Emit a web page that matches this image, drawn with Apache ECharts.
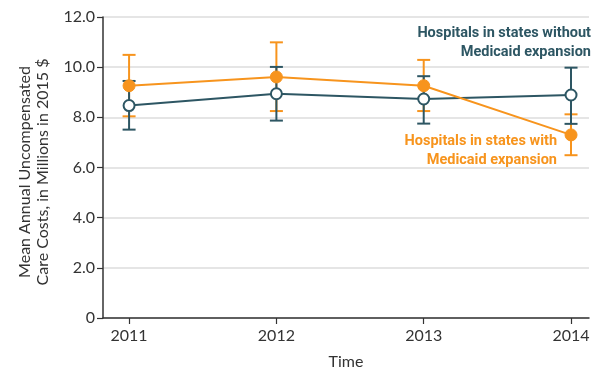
<!DOCTYPE html>
<html>
<head>
<meta charset="utf-8">
<script src="https://cdn.jsdelivr.net/npm/echarts@6/dist/echarts.min.js"></script>
<style>
  html, body { margin: 0; padding: 0; background: #fff; }
  #chart { width: 598px; height: 368px; }
</style>
</head>
<body>
<div id="chart"></div>
<script>
// Years on the horizontal axis
const years = [2011, 2012, 2013, 2014];

// Hospitals in states with Medicaid expansion (mean and 95% CI, $ millions)
const expansionMean = [9.26, 9.61, 9.26, 7.30];
const expansionLow  = [8.04, 8.25, 8.25, 6.49];
const expansionHigh = [10.49, 10.99, 10.29, 8.12];

// Hospitals in states without Medicaid expansion
const nonExpansionMean = [8.47, 8.94, 8.73, 8.89];
const nonExpansionLow  = [7.51, 7.87, 7.75, 7.74];
const nonExpansionHigh = [9.45, 10.01, 9.64, 9.98];

const ORANGE = '#f7941d';
const TEAL = '#2d5663';
const AXIS_FONT = 'Lato, "Open Sans", sans-serif';
const NOTE_FONT = '"Liberation Sans Narrow", "Roboto", sans-serif';

function pairs(xs, ys) { return xs.map((x, i) => [x, ys[i]]); }
function ranges(xs, lo, hi) { return xs.map((x, i) => [x, lo[i], hi[i]]); }

// Vertical whisker with horizontal caps
function errorBar(color) {
  return function (params, api) {
    const x = api.value(0);
    const top = api.coord([x, api.value(2)]);
    const bot = api.coord([x, api.value(1)]);
    const half = 6.5;
    const style = { stroke: color, lineWidth: 2, fill: null };
    return {
      type: 'group',
      children: [
        { type: 'line', shape: { x1: top[0], y1: top[1], x2: bot[0], y2: bot[1] }, style },
        { type: 'line', shape: { x1: top[0] - half, y1: top[1], x2: top[0] + half, y2: top[1] }, style },
        { type: 'line', shape: { x1: bot[0] - half, y1: bot[1], x2: bot[0] + half, y2: bot[1] }, style }
      ]
    };
  };
}

const chart = echarts.init(document.getElementById('chart'), null, { renderer: 'canvas' });

chart.setOption({
  animation: false,
  backgroundColor: '#fff',
  grid: { left: 103, right: 9, top: 17, bottom: 50, containLabel: false, outerBoundsMode: 'none' },
  xAxis: {
    type: 'value',
    min: 2010.823,
    max: 2014.122,
    splitLine: { show: false },
    axisLine: { show: true, lineStyle: { color: '#333', width: 1.5 } },
    axisTick: { show: true, customValues: years, length: 6, lineStyle: { color: '#333', width: 1.2 } },
    axisLabel: {
      customValues: years,
      formatter: v => String(v),
      color: '#333', fontFamily: AXIS_FONT, fontSize: 16, margin: 10
    },
    name: 'Time',
    nameLocation: 'middle',
    nameGap: 36,
    nameTextStyle: { color: '#333', fontFamily: AXIS_FONT, fontSize: 16 }
  },
  yAxis: {
    type: 'value',
    min: 0,
    max: 12,
    interval: 2,
    axisLine: { show: true, lineStyle: { color: '#333', width: 1.5 } },
    axisTick: { show: true, length: 6, lineStyle: { color: '#333', width: 1.2 } },
    axisLabel: {
      formatter: v => (v === 0 ? '0' : v.toFixed(1)),
      color: '#333', fontFamily: AXIS_FONT, fontSize: 16, margin: 8
    },
    splitLine: { show: true, lineStyle: { color: '#dcdcdc', width: 1.5 } }
  },
  graphic: [
    {
      type: 'text', x: 34, y: 172, rotation: Math.PI / 2,
      style: {
        text: 'Mean Annual Uncompensated\nCare Costs, in Millions in 2015 $',
        align: 'center', verticalAlign: 'middle',
        fill: '#333', font: '16px ' + AXIS_FONT, lineHeight: 18
      }
    },
    {
      type: 'text', x: 591, y: 42.5,
      style: {
        text: 'Hospitals in states without\nMedicaid expansion',
        align: 'right', verticalAlign: 'middle',
        fill: TEAL, font: 'bold 14.5px ' + NOTE_FONT, lineHeight: 19
      }
    },
    {
      type: 'text', x: 557, y: 150.5,
      style: {
        text: 'Hospitals in states with\nMedicaid expansion',
        align: 'right', verticalAlign: 'middle',
        fill: ORANGE, font: 'bold 14.5px ' + NOTE_FONT, lineHeight: 19
      }
    }
  ],
  series: [
    {
      type: 'custom', name: 'expansion CI',
      renderItem: errorBar(ORANGE),
      data: ranges(years, expansionLow, expansionHigh),
      encode: { x: 0, y: [1, 2] }, z: 2
    },
    {
      type: 'custom', name: 'non-expansion CI',
      renderItem: errorBar(TEAL),
      data: ranges(years, nonExpansionLow, nonExpansionHigh),
      encode: { x: 0, y: [1, 2] }, z: 2
    },
    {
      type: 'line', name: 'Hospitals in states without Medicaid expansion',
      data: pairs(years, nonExpansionMean),
      symbol: 'circle', symbolSize: 11,
      lineStyle: { color: TEAL, width: 2 },
      itemStyle: { color: '#fff', borderColor: TEAL, borderWidth: 2 },
      z: 3
    },
    {
      type: 'line', name: 'Hospitals in states with Medicaid expansion',
      data: pairs(years, expansionMean),
      symbol: 'circle', symbolSize: 12,
      lineStyle: { color: ORANGE, width: 2 },
      itemStyle: { color: ORANGE, borderColor: ORANGE, borderWidth: 1 },
      z: 4
    }
  ]
});
</script>
</body>
</html>
